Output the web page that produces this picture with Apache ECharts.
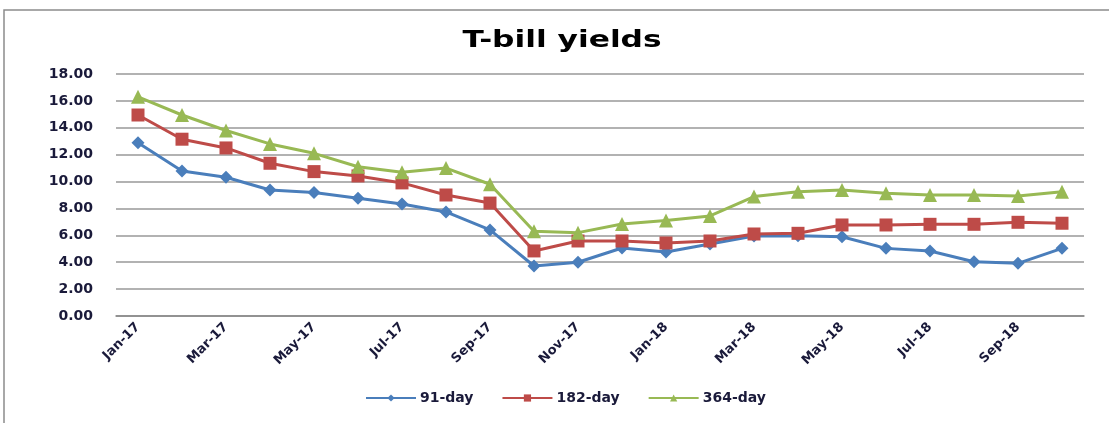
<!DOCTYPE html>
<html>
<head>
<meta charset="utf-8">
<script src="https://cdn.jsdelivr.net/npm/echarts@6/dist/echarts.min.js"></script>
<style>
  html, body { margin: 0; padding: 0; background: #fff; }
  #chart { width: 1109px; height: 423px; }
</style>
</head>
<body>
<div id="chart"></div>
<script>
const months = ['Jan-17', 'Feb-17', 'Mar-17', 'Apr-17', 'May-17', 'Jun-17', 'Jul-17', 'Aug-17',
  'Sep-17', 'Oct-17', 'Nov-17', 'Dec-17', 'Jan-18', 'Feb-18', 'Mar-18', 'Apr-18', 'May-18',
  'Jun-18', 'Jul-18', 'Aug-18', 'Sep-18', 'Oct-18']

const day91 = [12.88, 10.79, 10.32, 9.37, 9.18, 8.75, 8.33, 7.74, 6.4, 3.72, 4.0, 5.06,
  4.76, 5.36, 5.95, 5.97, 5.9, 5.03, 4.83, 4.04, 3.92, 5.03]
const day182 = [14.95, 13.15, 12.5, 11.36, 10.74, 10.42, 9.9, 9.0, 8.4, 4.84, 5.58, 5.58,
  5.43, 5.58, 6.1, 6.15, 6.77, 6.77, 6.82, 6.82, 6.97, 6.9]
const day364 = [16.3, 14.95, 13.8, 12.8, 12.1, 11.1, 10.7, 11.0, 9.8, 6.3, 6.2, 6.84,
  7.1, 7.44, 8.88, 9.25, 9.37, 9.13, 9.0, 9.0, 8.93, 9.25]

const seriesNames = ['91-day', '182-day', '364-day']
const colors = ['#4A7EBB', '#BE4B48', '#98B954']

const chart = echarts.init(document.getElementById('chart'))

const labelFont = {
  fontFamily: '"DejaVu Sans", sans-serif',
  fontWeight: 'bold',
  color: '#1a1a3a'
}

const makeSeries = (name, data, color, symbol, size) => ({
  name,
  type: 'line',
  data,
  symbol,
  symbolSize: size,
  showAllSymbol: true,
  lineStyle: { color, width: 3 },
  itemStyle: { color, borderWidth: 0 },
  emphasis: { disabled: true }
})

chart.setOption({
  animation: false,
  backgroundColor: '#fff',
  graphic: [
    {
      type: 'rect',
      shape: { x: 4, y: 10, width: 1120, height: 420 },
      style: { fill: 'none', stroke: '#8c8c8c', lineWidth: 1.5 },
      silent: true
    },
    {
      // the source picture is stretched sideways, so the title is widened to match
      type: 'text',
      x: 562,
      y: 41,
      scaleX: 1.36,
      silent: true,
      style: {
        text: 'T-bill yields',
        align: 'center',
        verticalAlign: 'middle',
        fontFamily: '"DejaVu Sans", sans-serif',
        fontSize: 23,
        fontWeight: 'bold',
        fill: '#000'
      }
    }
  ],
  legend: {
    bottom: 13,
    left: 360,
    itemWidth: 50,
    itemHeight: 9,
    itemGap: 28,
    data: seriesNames,
    textStyle: { ...labelFont, fontSize: 14, padding: [0, 0, 0, -1] }
  },
  grid: { left: 116, right: 25, top: 74, bottom: 107 },
  xAxis: {
    type: 'category',
    data: months,
    boundaryGap: true,
    axisLine: { lineStyle: { color: '#888', width: 1.5 } },
    axisTick: { show: false },
    axisLabel: { ...labelFont, interval: 1, rotate: 45, margin: 9, fontSize: 13 }
  },
  yAxis: {
    type: 'value',
    min: 0,
    max: 18,
    interval: 2,
    axisLine: { show: false },
    axisTick: { show: false },
    splitLine: { lineStyle: { color: '#999', width: 1.5 } },
    axisLabel: { ...labelFont, margin: 23, fontSize: 14, formatter: v => v.toFixed(2) }
  },
  series: [
    makeSeries(seriesNames[0], day91, colors[0], 'diamond', 13),
    makeSeries(seriesNames[1], day182, colors[1], 'rect', 13),
    makeSeries(seriesNames[2], day364, colors[2], 'triangle', 14)
  ]
})
</script>
</body>
</html>
